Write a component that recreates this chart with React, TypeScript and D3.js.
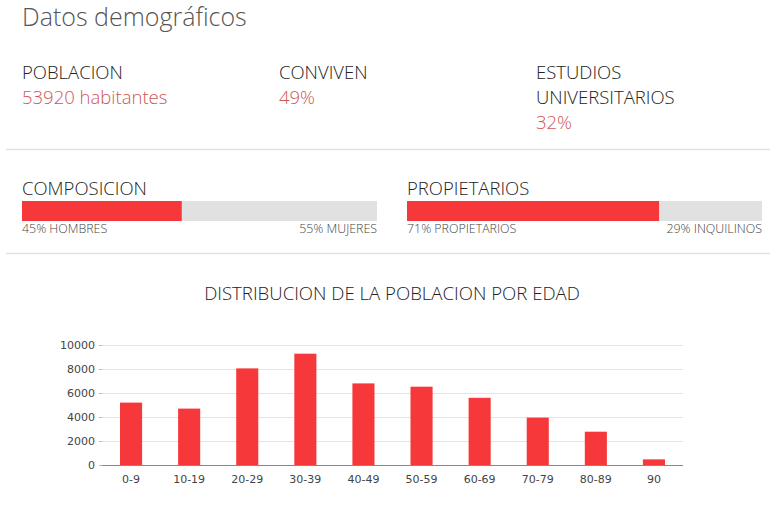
import React from "react";
import * as d3 from "d3";

const ageGroups = ["0-9", "10-19", "20-29", "30-39", "40-49", "50-59", "60-69", "70-79", "80-89", "90"];
const population = [5200, 4700, 8050, 9275, 6800, 6525, 5600, 3950, 2775, 470];
const yTicks = [0, 2000, 4000, 6000, 8000, 10000];

const stats = [
  { label: ["POBLACION"], value: "53920 habitantes" },
  { label: ["CONVIVEN"], value: "49%" },
  { label: ["ESTUDIOS", "UNIVERSITARIOS"], value: "32%" },
];

const splitBars = [
  { title: "COMPOSICION", share: 45, left: "45% HOMBRES", right: "55% MUJERES" },
  { title: "PROPIETARIOS", share: 71, left: "71% PROPIETARIOS", right: "29% INQUILINOS" },
];

const FONT = "'Open Sans', sans-serif";
const RED = "#f7383a";
const TEXT_RED = "#cf5656";

export default function App() {
  const W = 770;
  const H = 509;
  const plot = { left: 102, right: 683, top: 345, bottom: 465 };
  const x = d3.scaleBand<string>().domain(ageGroups).range([plot.left, plot.right]).padding(0);
  const y = d3.scaleLinear().domain([0, 10000]).range([plot.bottom, plot.top]);
  const barW = x.bandwidth() * 0.38;

  const statX = [22, 279, 536];
  const pctScale = d3.scaleLinear().domain([0, 100]);
  const splitX = [22, 407];
  const splitW = 355;

  return (
    <svg width={W} height={H} style={{ position: "absolute", left: 0, top: 0, background: "#fff" }}>
      <text x={22} y={26} fontFamily={FONT} fontWeight={300} fontSize={25} fill="#555">Datos demográficos</text>

      {stats.map((s, i) => (
        <g key={i}>
          {s.label.map((l, j) => (
            <text key={j} x={statX[i]} y={78.5 + j * 25} fontFamily={FONT} fontWeight={300} fontSize={18.5} fill="#222">{l}</text>
          ))}
          <text x={statX[i]} y={78.5 + s.label.length * 25} fontFamily={FONT} fontWeight={300} fontSize={18.5} fill={TEXT_RED}>{s.value}</text>
        </g>
      ))}

      <line x1={6} x2={770} y1={149.5} y2={149.5} stroke="#e2e2e2" strokeWidth={1.5} />

      {splitBars.map((b, i) => {
        const sc = pctScale.copy().range([splitX[i], splitX[i] + splitW]);
        return (
          <g key={i}>
            <text x={sc(0)} y={194.5} fontFamily={FONT} fontWeight={300} fontSize={18.5} fill="#222">{b.title}</text>
            <rect x={sc(0)} y={201} width={sc(100) - sc(0)} height={20} fill="#e1e1e1" />
            <rect x={sc(0)} y={201} width={sc(b.share) - sc(0)} height={20} fill={RED} />
            <text x={sc(0)} y={233} fontFamily={FONT} fontWeight={300} fontSize={12.4} fill="#444">{b.left}</text>
            <text x={sc(100)} y={233} textAnchor="end" fontFamily={FONT} fontWeight={300} fontSize={12.4} fill="#444">{b.right}</text>
          </g>
        );
      })}

      <line x1={6} x2={770} y1={253.5} y2={253.5} stroke="#e2e2e2" strokeWidth={1.5} />

      <text x={392} y={299.5} textAnchor="middle" fontFamily={FONT} fontWeight={300} fontSize={18.6} fill="#222">DISTRIBUCION DE LA POBLACION POR EDAD</text>

      {yTicks.map((t) => (
        <g key={t}>
          {t > 0 && <line x1={plot.left} x2={plot.right} y1={Math.round(y(t)) + 0.5} y2={Math.round(y(t)) + 0.5} stroke="#e3e3e3" />}
          <line x1={plot.left - 3} x2={plot.left} y1={Math.round(y(t)) + 0.5} y2={Math.round(y(t)) + 0.5} stroke="#bbb" />
          <text x={95} y={y(t) + 4} textAnchor="end" fontFamily="'DejaVu Sans', sans-serif" fontSize={11} fill="#444">{t}</text>
        </g>
      ))}

      {ageGroups.map((g, i) => {
        const cx = (x(g) as number) + x.bandwidth() / 2;
        return (
          <g key={g}>
            <rect x={cx - barW / 2} y={y(population[i])} width={barW} height={y(0) - y(population[i])} fill={RED} />
            <text x={cx} y={483} textAnchor="middle" fontFamily="'DejaVu Sans', sans-serif" fontSize={11} fill="#444">{g}</text>
          </g>
        );
      })}

      <line x1={plot.left} x2={plot.right} y1={plot.bottom + 0.5} y2={plot.bottom + 0.5} stroke="#888" />
    </svg>
  );
}
